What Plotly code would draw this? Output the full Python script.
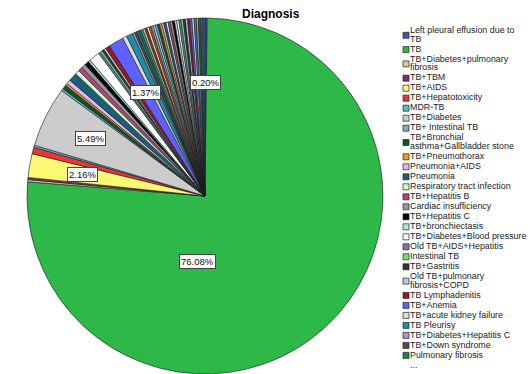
import plotly.graph_objects as go
import math

# Diagnosis categories in chart order (legend order = slice order, clockwise from 12 o'clock)
legend_labels = [
    "Left pleural effusion due to\nTB",
    "TB",
    "TB+Diabetes+pulmonary\nfibrosis",
    "TB+TBM",
    "TB+AIDS",
    "TB+Hepatotoxicity",
    "MDR-TB",
    "TB+Diabetes",
    "TB+ Intestinal TB",
    "TB+Bronchial\nasthma+Gallbladder stone",
    "TB+Pneumothorax",
    "Pneumonia+AIDS",
    "Pneumonia",
    "Respiratory tract infection",
    "TB+Hepatitis B",
    "Cardiac insufficiency",
    "TB+Hepatitis C",
    "TB+bronchiectasis",
    "TB+Diabetes+Blood pressure",
    "Old TB+AIDS+Hepatitis",
    "Intestinal TB",
    "TB+Gastritis",
    "Old TB+pulmonary\nfibrosis+COPD",
    "TB Lymphadenitis",
    "TB+Anemia",
    "TB+acute kidney failure",
    "TB Pleurisy",
    "TB+Diabetes+Hepatitis C",
    "TB+Down syndrome",
    "Pulmonary fibrosis",
]
legend_counts = [1, 388, 1, 1, 11, 3, 1, 28, 1, 2, 1, 2, 4, 2, 2, 2, 2, 1, 5,
                 1, 1, 1, 1, 2, 7, 2, 3, 1, 1, 1]

# Further diagnoses beyond the legend's visible rows (one case each)
other_counts = [1] * 31
other_names = [f"Other diagnosis {i + 1}" for i in range(len(other_counts))]

categories = [s.replace("\n", " ") for s in legend_labels] + other_names
counts = legend_counts + other_counts
total = sum(counts)

# Slices that carry a percentage box: (radial fraction, angular shift in degrees)
labelled = {
    "TB": (0.37, 49.3),
    "TB+Diabetes": (0.72, 0.0),
    "TB+AIDS": (0.70, 0.0),
    "TB+Anemia": (0.67, 0.0),
    "Left pleural effusion due to TB": (0.64, 0.0),
}

palette = [
    "#3E58AC", "#2EB848", "#D3CE97", "#7C287D", "#FBF873", "#EF3338",
    "#48C2C5", "#CCCCCC", "#7AAAD5", "#0A562C", "#F8981D", "#DDBAF1",
    "#1A5F76", "#CCFFCC", "#BB3F7F", "#999999", "#000000", "#B6E7E8",
    "#FFFFFF", "#797AA7", "#70DC84", "#333333", "#ACD0EE", "#A21619",
    "#5D61FF", "#DDDDDD", "#1B8FAA", "#B293C6", "#4D4D4D", "#0E8C45",
]
colors = [palette[i % len(palette)] for i in range(len(categories))]

W, H = 530, 374
CX, CY, R = 205, 196, 178
FONT = "Liberation Sans, Arial, sans-serif"

fig = go.Figure()

fig.add_trace(go.Pie(
    labels=categories,
    values=counts,
    sort=False,
    direction="clockwise",
    rotation=0,
    marker=dict(colors=colors, line=dict(color="#1a1a1a", width=0.6)),
    textinfo="none",
    hoverinfo="label+value+percent",
    showlegend=False,
    domain=dict(x=[(CX - R) / W, (CX + R) / W], y=[0, 2 * R / H]),
))

# Percentage boxes positioned from each slice's angular midpoint
annotations = []
cum = 0
for name, c in zip(categories, counts):
    if name in labelled:
        frac, shift = labelled[name]
        mid = (cum + c / 2) / total * 360 + shift
        th = math.radians(mid)
        annotations.append(dict(
            x=CX + frac * R * math.sin(th),
            y=CY - frac * R * math.cos(th),
            xref="x", yref="y",
            text=f"{100 * c / total:.2f}%",
            showarrow=False,
            font=dict(family=FONT, size=9.5, color="#111"),
            bgcolor="white", bordercolor="#444", borderwidth=1, borderpad=1,
        ))
    cum += c

# Legend drawn as square swatches plus text rows
LX, TX, Y0 = 404, 410, 31
PITCH, LINE = 10.0, 8.6
sw_x, sw_y, sw_c = [], [], []
tx_x, tx_y, tx_t = [], [], []
y = Y0
for lab, col in zip(legend_labels, colors):
    lines = lab.split("\n")
    ys = [y + k * LINE for k in range(len(lines))]
    sw_x.append(LX + 2)
    sw_y.append(sum(ys) / len(ys))
    sw_c.append(col)
    for ln, yy in zip(lines, ys):
        tx_x.append(TX)
        tx_y.append(yy)
        tx_t.append(ln)
    y = ys[-1] + PITCH
tx_x.append(TX)
tx_y.append(y)
tx_t.append("...")

fig.add_trace(go.Scatter(
    x=sw_x, y=sw_y, mode="markers",
    marker=dict(symbol="square", size=6, color=sw_c,
                line=dict(color="#222", width=0.7)),
    hoverinfo="skip", showlegend=False,
))
fig.add_trace(go.Scatter(
    x=tx_x, y=tx_y, mode="text", text=tx_t, textposition="middle right",
    textfont=dict(family=FONT, size=8.9, color="#222"),
    hoverinfo="skip", showlegend=False,
))

annotations.append(dict(
    x=271, y=14, xref="x", yref="y", text="<b>Diagnosis</b>", showarrow=False,
    font=dict(family=FONT, size=12, color="#000"),
))

fig.update_layout(
    width=W, height=H,
    margin=dict(l=0, r=0, t=0, b=0),
    paper_bgcolor="white", plot_bgcolor="rgba(0,0,0,0)",
    xaxis=dict(domain=[0, 1], range=[0, W], visible=False, fixedrange=True),
    yaxis=dict(domain=[0, 1], range=[H, 0], visible=False, fixedrange=True),
    annotations=annotations,
    showlegend=False,
)

fig.write_html("out.html")
